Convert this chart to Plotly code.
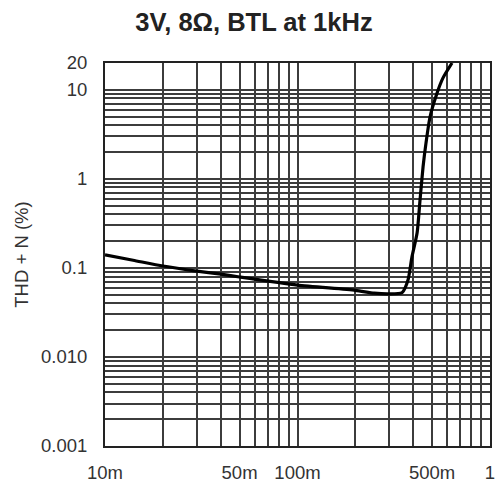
import numpy as np
import plotly.graph_objects as go

# Data
output_power = [0.01, 0.014, 0.02, 0.03, 0.04, 0.05, 0.1, 0.2, 0.25, 0.3, 0.35,
                0.375, 0.393, 0.418, 0.433, 0.449, 0.465, 0.488, 0.531, 0.57, 0.635]
thd_n = [0.14, 0.122, 0.105, 0.092, 0.085, 0.079, 0.064, 0.056, 0.052, 0.051, 0.053,
         0.073, 0.132, 0.246, 0.578, 1.36, 2.52, 4.95, 9.2, 13.6, 20]

x_label_vals = [0.01, 0.05, 0.1, 0.5, 1]
x_label_text = ["10m", "50m", "100m", "500m", "1"]
y_label_vals = [0.001, 0.01, 0.1, 1, 10, 20]
y_label_text = ["0.001", "0.010", "0.1", "1", "10", "20"]

# grid positions (1..9 per decade)
x_grid = [m * 10.0 ** e for e in (-2, -1) for m in range(1, 10)] + [1.0]
y_grid = [m * 10.0 ** e for e in (-3, -2, -1, 0) for m in range(1, 10)] + [10.0, 20.0]

def labels(vals, lv, lt):
    out = []
    for v in vals:
        s = ""
        for a, t in zip(lv, lt):
            if abs(np.log10(v) - np.log10(a)) < 1e-6:
                s = t
        out.append(s)
    return out

fig = go.Figure()
fig.add_trace(go.Scatter(x=output_power, y=thd_n, mode="lines",
                         line=dict(color="black", width=3.2, shape="spline", smoothing=0.6),
                         showlegend=False))

grid_col = "#3c3c3c"
fig.update_layout(
    width=502, height=486,
    margin=dict(l=105, r=12, t=63, b=40),
    paper_bgcolor="white", plot_bgcolor="white",
    title=dict(text="<b>3V, 8Ω, BTL at 1kHz</b>", x=0.506, xanchor="center",
               y=1 - 22 / 486, yanchor="middle",
               font=dict(family="Liberation Sans, Arial", size=25.5, color="#222")),
    font=dict(family="Liberation Sans, Arial", size=18.5, color="#333"),
    xaxis=dict(type="log", range=[-2, 0], tickmode="array", tickvals=x_grid,
               ticktext=labels(x_grid, x_label_vals, x_label_text),
               showgrid=True, gridcolor=grid_col, gridwidth=1.5,
               showline=True, linecolor="#222", linewidth=2, mirror=True,
               ticks="outside", ticklen=9, tickcolor="rgba(0,0,0,0)",
               zeroline=False, automargin=False),
    yaxis=dict(type="log", range=[-3, np.log10(20)], tickmode="array", tickvals=y_grid,
               ticktext=labels(y_grid, y_label_vals, y_label_text),
               showgrid=True, gridcolor=grid_col, gridwidth=1.5,
               showline=True, linecolor="#222", linewidth=2, mirror=True,
               ticks="outside", ticklen=12, tickcolor="rgba(0,0,0,0)",
               title=dict(text="THD + N (%)", standoff=8, font=dict(size=18.5)),
               zeroline=False, automargin=False),
)

fig.write_html("out.html")
